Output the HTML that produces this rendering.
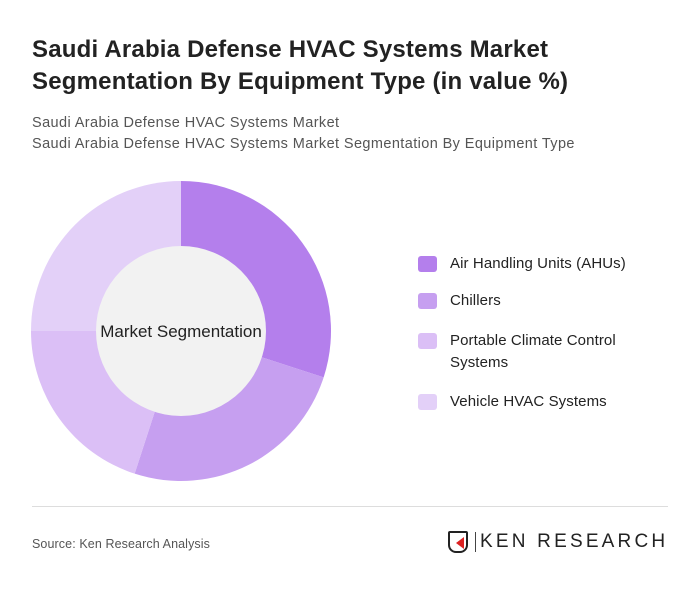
<!DOCTYPE html>
<html><head><meta charset="utf-8"><style>
body{margin:0;width:700px;height:591px;background:#fff;font-family:"Liberation Sans",sans-serif;overflow:hidden;position:relative}
.t{position:absolute;left:32px;top:34px;font-size:24px;font-weight:bold;color:#222;line-height:32px;letter-spacing:0.2px}
.s{position:absolute;left:32px;top:113px;font-size:14.5px;color:#555;line-height:21px;letter-spacing:0.4px}
.lg{position:absolute;left:418px;font-size:15px;color:#222;line-height:22px;letter-spacing:0.1px}
.sw{position:absolute;left:0;top:3px;width:19px;height:16px;border-radius:3px}
.lg span{display:block;margin-left:32px}
</style></head><body>
<div class="t">Saudi Arabia Defense HVAC Systems Market<br>Segmentation By Equipment Type (in value %)</div>
<div class="s">Saudi Arabia Defense HVAC Systems Market<br>Saudi Arabia Defense HVAC Systems Market Segmentation By Equipment Type</div>
<svg id="c" width="700" height="591" style="position:absolute;left:0;top:0"></svg>
<div class="lg" style="top:253px"><div class="sw" style="background:#b47fec"></div><span>Air Handling Units (AHUs)</span></div>
<div class="lg" style="top:290px"><div class="sw" style="background:#c69ff0"></div><span>Chillers</span></div>
<div class="lg" style="top:330px"><div class="sw" style="background:#dbbff6"></div><span>Portable Climate Control<br>Systems</span></div>
<div class="lg" style="top:391px"><div class="sw" style="background:#e3d0f8"></div><span>Vehicle HVAC Systems</span></div>
<div style="position:absolute;left:32px;top:506px;width:636px;height:1px;background:#ddd"></div>
<div style="position:absolute;left:32px;top:537px;font-size:12.5px;color:#555;letter-spacing:0.1px">Source: Ken Research Analysis</div>
<div style="position:absolute;left:448px;top:531px;width:20px;height:22px;border:2px solid #222;border-radius:2px 2px 8px 8px;box-sizing:border-box"><div style="position:absolute;left:6px;top:4px;width:0;height:0;border-top:6px solid transparent;border-bottom:6px solid transparent;border-right:8px solid #d22"></div></div>
<div style="position:absolute;left:475px;top:532px;width:1px;height:20px;background:#444"></div>
<div style="position:absolute;left:480px;top:531px;font-size:19px;color:#222;letter-spacing:3.2px">KEN RESEARCH</div>
<script>
const categories=["Air Handling Units (AHUs)","Chillers","Portable Climate Control Systems","Vehicle HVAC Systems"];
const values=[30,25,20,25];
const colors=["#b47fec","#c69ff0","#dbbff6","#e3d0f8"];
const svg=document.getElementById('c');const NS='http://www.w3.org/2000/svg';
const cx=181,cy=331,R=150,r=85;
const tot=values.reduce((a,b)=>a+b,0);let a0=0;
function pt(a,rad){return [cx+rad*Math.sin(a),cy-rad*Math.cos(a)];}
values.forEach((v,i)=>{const a1=a0+v/tot*2*Math.PI;const l=(a1-a0)>Math.PI?1:0;
const p0=pt(a0,R),p1=pt(a1,R);
const p=document.createElementNS(NS,'path');
p.setAttribute('d',`M${cx},${cy}L${p0[0]},${p0[1]}A${R},${R} 0 ${l} 1 ${p1[0]},${p1[1]}Z`);
p.setAttribute('fill',colors[i]);


svg.appendChild(p);a0=a1;});
const c=document.createElementNS(NS,'circle');c.setAttribute('cx',cx);c.setAttribute('cy',cy);c.setAttribute('r',r);c.setAttribute('fill','#f2f2f2');


svg.appendChild(c);
const t=document.createElementNS(NS,'text');t.setAttribute('x',cx);t.setAttribute('y',cy+6);t.setAttribute('text-anchor','middle');t.setAttribute('font-size','17');t.setAttribute('fill','#222');t.setAttribute('font-family','Liberation Sans, sans-serif');t.textContent='Market Segmentation';


svg.appendChild(t);
</script>
</body></html>
